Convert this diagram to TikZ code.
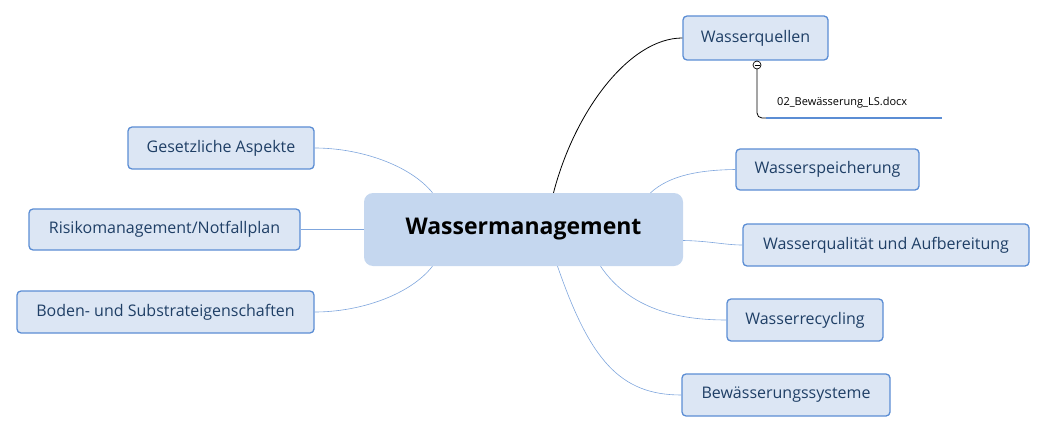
\documentclass[tikz,border=0pt]{standalone}
\usepackage{fontspec}
\setmainfont{Open Sans}
\begin{document}
\begin{tikzpicture}[x=1pt,y=-1pt,
  sub/.style={draw=bd,fill=sf,line width=1.3pt,rounded corners=4pt,font=\fontsize{16}{19}\selectfont,text=tx,inner sep=0pt},
  con/.style={draw=ln,line width=0.6pt}]
\definecolor{bd}{HTML}{5B8DD4}
\definecolor{sf}{HTML}{DCE6F4}
\definecolor{cf}{HTML}{C5D7EF}
\definecolor{ln}{HTML}{7FA6DD}
\definecolor{tx}{HTML}{1F3F66}
\useasboundingbox (0,0) rectangle (1047,433);
\node[fill=cf,rounded corners=9pt,minimum width=319pt,minimum height=73pt,font=\fontsize{23}{27}\selectfont\bfseries] (c) at (523.5,229.5) {Wassermanagement};
\node[sub,minimum width=145pt,minimum height=44pt] (q) at (755.5,38) {Wasserquellen};
\node[sub,minimum width=183pt,minimum height=41pt] (s) at (827.5,169.5) {Wasserspeicherung};
\node[sub,minimum width=286pt,minimum height=42pt] (a) at (886,245) {Wasserqualität und Aufbereitung};
\node[sub,minimum width=156pt,minimum height=42pt] (r) at (805,320) {Wasserrecycling};
\node[sub,minimum width=208pt,minimum height=42pt] (b) at (786,395) {Bewässerungssysteme};
\node[sub,minimum width=186pt,minimum height=42pt] (g) at (221,148) {Gesetzliche Aspekte};
\node[sub,minimum width=271pt,minimum height=41pt] (k) at (164.5,229.5) {Risikomanagement/Notfallplan};
\node[sub,minimum width=297pt,minimum height=42pt] (d) at (165.5,312) {Boden- und Substrateigenschaften};
\draw[black,line width=0.8pt] ([xshift=30pt]c.north) .. controls (575,110) and (630,38) .. (q.west);
\draw[con] ([xshift=127pt]c.north) .. controls (670,175) and (700,170) .. (s.west);
\draw[con] ([yshift=-11pt]c.east) .. controls (710,241) and (725,245) .. (a.west);
\draw[con] ([xshift=77pt]c.south) .. controls (630,310) and (680,320) .. (r.west);
\draw[con] ([xshift=34pt]c.south) .. controls (590,360) and (620,395) .. (b.west);
\draw[con] ([xshift=-91pt]c.north) .. controls (410,165) and (360,148) .. (g.east);
\draw[con] (c.west) -- (k.east);
\draw[con] ([xshift=-91pt]c.south) .. controls (410,295) and (360,312) .. (d.east);
\coordinate (p) at (757,65);
\coordinate (e) at (942,118);
\draw[black,line width=0.8pt,rounded corners=5pt] ([yshift=4pt]p) -- (757,118) -- (766,118);
\draw[bd,line width=1.8pt] (766,118) -- (e);
\draw[black,fill=white,line width=0.7pt] (p) circle (4pt);
\draw[black,line width=0.7pt] (754.5,65) -- (759.5,65);
\node[anchor=base west,font=\fontsize{11}{13}\selectfont,inner sep=0pt] (f) at (777,106) {02\_Bewässerung\_LS.docx};
\end{tikzpicture}
\end{document}
